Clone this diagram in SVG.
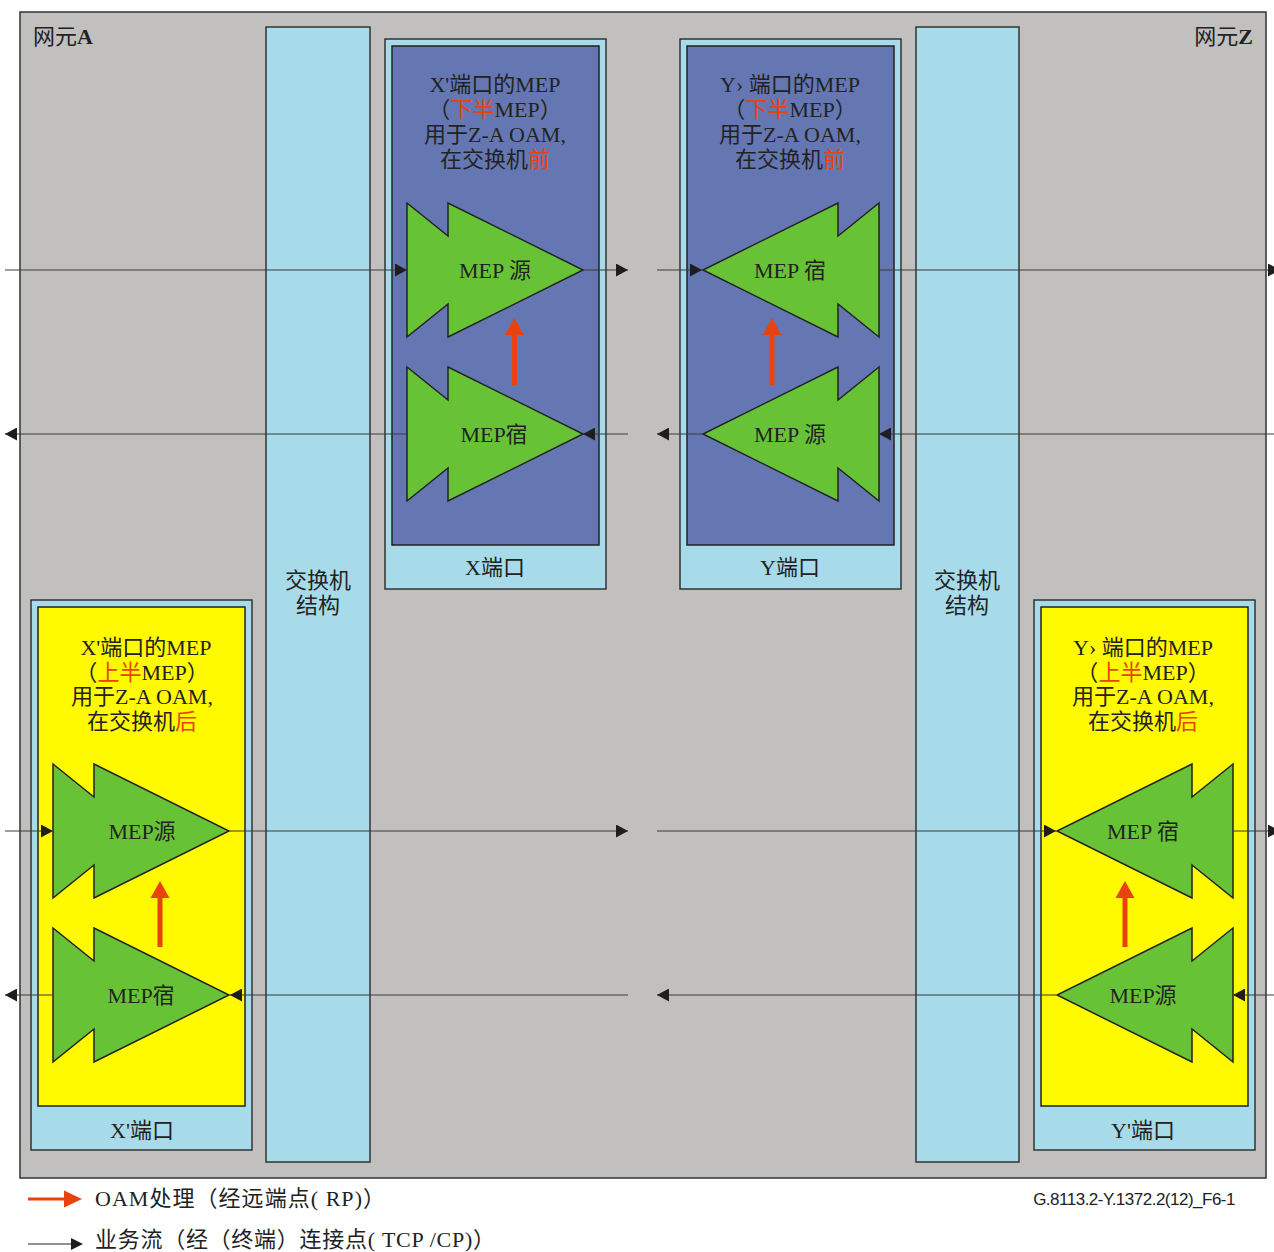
<svg xmlns="http://www.w3.org/2000/svg" xmlns:xlink="http://www.w3.org/1999/xlink" width="1274" height="1252" viewBox="0 0 1274 1252">
<style>
.t{font-family:"Liberation Serif","Noto Sans CJK SC",serif;font-size:22px;fill:#222;}
.c{text-anchor:middle;}
.red{fill:#e8420f;}
.bg{fill:#c1c0be;stroke:#333;stroke-width:1.5;}
.sw{fill:#a8dbe9;stroke:#333;stroke-width:1.5;}
.blue{fill:#6577b3;stroke:#222;stroke-width:1.5;}
.yel{fill:#fffa00;stroke:#222;stroke-width:1.5;}
.mep{fill:#68c236;stroke:#222;stroke-width:1.5;stroke-linejoin:miter;}
.flow{stroke:#3a3a3a;stroke-width:1.2;fill:none;marker-end:url(#ah);}
.oam{stroke:#e8420f;stroke-width:5;}
.oamh{fill:#e8420f;}
</style>
<defs>
<marker id="ah" markerUnits="userSpaceOnUse" markerWidth="12" markerHeight="13" refX="12" refY="6.5" orient="auto"><path d="M0,0 L12,6.5 L0,13 z" fill="#1e1e1e"/></marker>
<polygon id="mepShape" class="mep" points="0,-67 41,-34 41,-67 176,0 41,67 41,34 0,67"/>
</defs>
<rect width="1274" height="1252" fill="#fff"/>
<g id="ne-frame">
<rect class="bg" x="20" y="12" width="1246" height="1166"/>
<text class="t" x="33" y="44"><tspan>网元</tspan><tspan font-weight="bold">A</tspan></text>
<text class="t" x="1253" y="44" text-anchor="end"><tspan>网元</tspan><tspan font-weight="bold">Z</tspan></text>
</g>
<g id="switch-a">
<rect class="sw" x="266" y="27" width="104" height="1135"/>
<text class="t c" x="318" y="588" font-size="21">交换机</text>
<text class="t c" x="318" y="613" font-size="21">结构</text>
</g>
<g id="switch-z">
<rect class="sw" x="916" y="27" width="103" height="1135"/>
<text class="t c" x="967" y="588" font-size="21">交换机</text>
<text class="t c" x="967" y="613" font-size="21">结构</text>
</g>
<g id="port-x">
<rect class="sw" x="385" y="39" width="221" height="550"/>
<rect class="blue" x="392" y="46" width="207" height="499"/>
<text class="t c" x="495" y="92">X'端口的MEP</text>
<text class="t c" x="495" y="117">（<tspan class="red">下半</tspan>MEP）</text>
<text class="t c" x="495" y="142">用于Z-A OAM,</text>
<text class="t c" x="495" y="167">在交换机<tspan class="red">前</tspan></text>
<text class="t c" x="495" y="575">X端口</text>
</g>
<g id="port-y">
<rect class="sw" x="680" y="39" width="221" height="550"/>
<rect class="blue" x="687" y="46" width="207" height="499"/>
<text class="t c" x="790" y="92">Y› 端口的MEP</text>
<text class="t c" x="790" y="117">（<tspan class="red">下半</tspan>MEP）</text>
<text class="t c" x="790" y="142">用于Z-A OAM,</text>
<text class="t c" x="790" y="167">在交换机<tspan class="red">前</tspan></text>
<text class="t c" x="790" y="575">Y端口</text>
</g>
<g id="port-x2">
<rect class="sw" x="31" y="600" width="221" height="550"/>
<rect class="yel" x="38" y="607" width="207" height="499"/>
<text class="t c" x="146" y="655">X'端口的MEP</text>
<text class="t c" x="142" y="680">（<tspan class="red">上半</tspan>MEP）</text>
<text class="t c" x="142" y="704">用于Z-A OAM,</text>
<text class="t c" x="142" y="729">在交换机<tspan class="red">后</tspan></text>
<text class="t c" x="142" y="1138">X'端口</text>
</g>
<g id="port-y2">
<rect class="sw" x="1034" y="600" width="221" height="550"/>
<rect class="yel" x="1041" y="607" width="207" height="499"/>
<text class="t c" x="1143" y="655">Y› 端口的MEP</text>
<text class="t c" x="1143" y="680">（<tspan class="red">上半</tspan>MEP）</text>
<text class="t c" x="1143" y="704">用于Z-A OAM,</text>
<text class="t c" x="1143" y="729">在交换机<tspan class="red">后</tspan></text>
<text class="t c" x="1143" y="1138">Y'端口</text>
</g>
<g id="mep-x-src"><use xlink:href="#mepShape" transform="translate(407,270)"/><text class="t c" x="495" y="278">MEP 源</text></g>
<g id="mep-x-snk"><use xlink:href="#mepShape" transform="translate(407,434)"/><text class="t c" x="494" y="442">MEP宿</text></g>
<g id="mep-y-snk"><use xlink:href="#mepShape" transform="translate(879,270) scale(-1,1)"/><text class="t c" x="790" y="278">MEP 宿</text></g>
<g id="mep-y-src"><use xlink:href="#mepShape" transform="translate(879,434) scale(-1,1)"/><text class="t c" x="790" y="442">MEP 源</text></g>
<g id="mep-x2-src"><use xlink:href="#mepShape" transform="translate(53,831)"/><text class="t c" x="142" y="839">MEP源</text></g>
<g id="mep-x2-snk"><use xlink:href="#mepShape" transform="translate(53,995)"/><text class="t c" x="141" y="1003">MEP宿</text></g>
<g id="mep-y2-snk"><use xlink:href="#mepShape" transform="translate(1233,831) scale(-1,1)"/><text class="t c" x="1143" y="839">MEP 宿</text></g>
<g id="mep-y2-src"><use xlink:href="#mepShape" transform="translate(1233,995) scale(-1,1)"/><text class="t c" x="1143" y="1003">MEP源</text></g>
<g id="connectors">
<line class="flow" x1="5" y1="270" x2="407" y2="270"/>
<line class="flow" x1="583" y1="270" x2="628" y2="270"/>
<line class="flow" x1="657" y1="270" x2="702" y2="270"/>
<line class="flow" x1="879" y1="270" x2="1280" y2="270"/>
<line class="flow" x1="1280" y1="434" x2="879" y2="434"/>
<line class="flow" x1="702" y1="434" x2="657" y2="434"/>
<line class="flow" x1="628" y1="434" x2="583" y2="434"/>
<line class="flow" x1="407" y1="434" x2="5" y2="434"/>
<line class="flow" x1="5" y1="831" x2="53" y2="831"/>
<line class="flow" x1="230" y1="831" x2="628" y2="831"/>
<line class="flow" x1="657" y1="831" x2="1056" y2="831"/>
<line class="flow" x1="1233" y1="831" x2="1280" y2="831"/>
<line class="flow" x1="1280" y1="995" x2="1233" y2="995"/>
<line class="flow" x1="1056" y1="995" x2="657" y2="995"/>
<line class="flow" x1="628" y1="995" x2="230" y2="995"/>
<line class="flow" x1="53" y1="995" x2="5" y2="995"/>
<line class="oam" x1="514.5" y1="385" x2="514.5" y2="334"/><polygon class="oamh" points="505,335 524,335 514.5,318"/>
<line class="oam" x1="772" y1="385" x2="772" y2="334"/><polygon class="oamh" points="762.5,335 781.5,335 772,318"/>
<line class="oam" x1="160" y1="947" x2="160" y2="897"/><polygon class="oamh" points="150.5,898 169.5,898 160,881"/>
<line class="oam" x1="1125" y1="947" x2="1125" y2="897"/><polygon class="oamh" points="1115.5,898 1134.5,898 1125,881"/>
</g>
<g id="legend">
<line x1="28" y1="1199" x2="66" y2="1199" stroke="#e8420f" stroke-width="3"/>
<polygon points="64,1190.5 82,1199 64,1207.5" fill="#e8420f"/>
<text class="t" x="95" y="1206" textLength="290" lengthAdjust="spacing">OAM处理（经远端点( RP)）</text>
<line x1="28" y1="1244" x2="73" y2="1244" stroke="#222" stroke-width="1.2"/>
<polygon points="71,1238 83,1244 71,1250" fill="#1e1e1e"/>
<text class="t" x="95" y="1247" textLength="400" lengthAdjust="spacing">业务流（经（终端）连接点( TCP /CP)）</text>
<text x="1235" y="1205" text-anchor="end" font-family="Liberation Sans, Arial, sans-serif" font-size="17" letter-spacing="-0.5" fill="#222">G.8113.2-Y.1372.2(12)_F6-1</text>
</g>
</svg>
